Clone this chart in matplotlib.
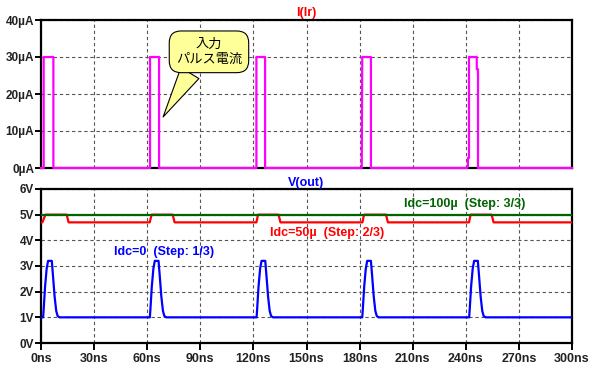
import matplotlib
matplotlib.use("Agg")
import matplotlib.pyplot as plt

# current pulse I(Ir), time in ns, current in uA
cur_t = [0, 1.5, 1.5, 7.0, 7.0, 61.6, 61.6, 66.7, 66.7, 121.7, 121.7, 126.6, 126.6,
         181.2, 181.5, 186.4, 186.4, 240.8, 241.2, 241.2, 241.8, 241.8, 246.2, 246.2,
         246.9, 246.9, 300]
cur_v = [0, 0, 30, 30, 0, 0, 30, 30, 0, 0, 30, 30, 0,
         0, 30, 30, 0, 0, 0.5, 2.7, 2.7, 30, 30, 26.7,
         26.7, 0, 0]

# V(out) step 1/3, Idc=0
v1_t = [0, 1.2, 1.5, 2.3, 3.2, 4.0, 6.1, 6.8, 7.7, 8.6, 9.4, 10.5,
        61.5, 61.8, 62.6, 63.5, 64.3, 66.4, 67.1, 68.0, 68.9, 69.7, 70.8,
        121.8, 122.1, 122.9, 123.8, 124.6, 126.7, 127.4, 128.3, 129.2, 130.0, 131.1,
        181.5, 181.8, 182.6, 183.5, 184.3, 186.4, 187.1, 188.0, 188.9, 189.7, 190.8,
        241.9, 242.2, 243.0, 243.9, 244.7, 246.8, 247.5, 248.4, 249.3, 250.1, 251.2, 300]
v1_v = [1.0, 1.0, 1.3, 2.2, 2.9, 3.2, 3.2, 2.6, 1.8, 1.25, 1.05, 1.0,
        1.0, 1.3, 2.2, 2.9, 3.2, 3.2, 2.6, 1.8, 1.25, 1.05, 1.0,
        1.0, 1.3, 2.2, 2.9, 3.2, 3.2, 2.6, 1.8, 1.25, 1.05, 1.0,
        1.0, 1.3, 2.2, 2.9, 3.2, 3.2, 2.6, 1.8, 1.25, 1.05, 1.0,
        1.0, 1.3, 2.2, 2.9, 3.2, 3.2, 2.6, 1.8, 1.25, 1.05, 1.0, 1.0]

# V(out) step 2/3, Idc=50u
v2_t = [0, 0.8, 2.5, 14.5, 15.6, 61.4, 62.5, 74.4, 75.5, 121.7, 122.6, 134.2, 135.3,
        181.6, 182.5, 194.9, 196.0, 241.8, 242.7, 254.6, 255.7, 300]
v2_v = [4.7, 4.7, 5.0, 5.0, 4.7, 4.7, 5.0, 5.0, 4.7, 4.7, 5.0, 5.0, 4.7,
        4.7, 5.0, 5.0, 4.7, 4.7, 5.0, 5.0, 4.7, 4.7]

# V(out) step 3/3, Idc=100u
v3_t = [0, 300]
v3_v = [5.0, 5.0]

x_ticks = [0, 30, 60, 90, 120, 150, 180, 210, 240, 270, 300]
x_labels = ["0ns", "30ns", "60ns", "90ns", "120ns", "150ns", "180ns", "210ns", "240ns", "270ns", "300ns"]
i_ticks = [0, 10, 20, 30, 40]
i_labels = ["0µA", "10µA", "20µA", "30µA", "40µA"]
v_ticks = [0, 1, 2, 3, 4, 5, 6]
v_labels = ["0V", "1V", "2V", "3V", "4V", "5V", "6V"]

FONT = "Liberation Sans"
TICKCOL = "#222222"
GREEN = "#006400"

fig = plt.figure(figsize=(5.94, 3.73), dpi=100)
ax1 = fig.add_axes([41 / 594, 1 - 168 / 373, 531 / 594, 148 / 373])
ax2 = fig.add_axes([41 / 594, 1 - 343 / 373, 531 / 594, 154 / 373])


def style(ax):
    for s in ax.spines.values():
        s.set_linewidth(1.6)
        s.set_color("black")
    ax.grid(True, color="#555555", linestyle=(0, (3, 2.5)), linewidth=0.8)
    ax.set_axisbelow(True)
    ax.set_xlim(0, 300)
    ax.set_xticks(x_ticks)
    ax.tick_params(direction="out", length=4, width=1.4, colors="black", pad=1)
    for lab in ax.get_xticklabels() + ax.get_yticklabels():
        lab.set_fontfamily(FONT)
        lab.set_fontweight("bold")
        lab.set_fontsize(8.5)
        lab.set_color(TICKCOL)


# top: input current
ax1.plot(cur_t, cur_v, color="#ff00ff", lw=1.6, zorder=3, clip_on=False)
ax1.set_ylim(0, 40)
ax1.set_yticks(i_ticks)
ax1.set_yticklabels(i_labels)
ax1.tick_params(axis="x", bottom=False, labelbottom=False)
style(ax1)
ax1.set_title("I(Ir)", color="red", fontfamily=FONT, fontweight="bold", fontsize=9, pad=3)

# speech balloon
ax1.annotate("入力\nパルス電流", xy=(69.0, 13.8), xytext=(94.9, 31.4),
             ha="center", va="center", fontsize=9.5, linespacing=1.25,
             fontfamily=["Noto Sans CJK JP", "DejaVu Sans"], zorder=5,
             bbox=dict(boxstyle="round,pad=0.5,rounding_size=0.9", fc="#ffff99", ec="black", lw=0.8),
             arrowprops=dict(arrowstyle="wedge,tail_width=1.6", fc="#ffff99", ec="black", lw=0.8,
                             relpos=(0.29, 0.05), shrinkA=0, shrinkB=0))

# bottom: output voltage
ax2.plot(v2_t, v2_v, color="#ff0000", lw=1.6, zorder=3)
ax2.plot(v3_t, v3_v, color=GREEN, lw=1.6, zorder=4)
ax2.plot(v1_t, v1_v, color="#0000ff", lw=1.6, zorder=3)
ax2.set_ylim(0, 6)
ax2.set_yticks(v_ticks)
ax2.set_yticklabels(v_labels)
ax2.set_xticklabels(x_labels)
style(ax2)
ax2.tick_params(axis="x", length=5, pad=2)
for lab in ax2.get_xticklabels():
    lab.set_fontsize(9)
ax2.set_title("V(out)", color="#0000ff", fontfamily=FONT, fontweight="bold", fontsize=9, pad=2)

lab_kw = dict(fontfamily=FONT, fontweight="bold", fontsize=9, va="center", ha="left")
ax2.text(41.5, 3.56, "Idc=0  (Step: 1/3)", color="#0000ff", **lab_kw)
ax2.text(129.5, 4.27, "Idc=50µ  (Step: 2/3)", color="#ff0000", **lab_kw)
ax2.text(205.0, 5.4, "Idc=100µ  (Step: 3/3)", color=GREEN, **lab_kw)

fig.savefig("out.png", dpi=100)
